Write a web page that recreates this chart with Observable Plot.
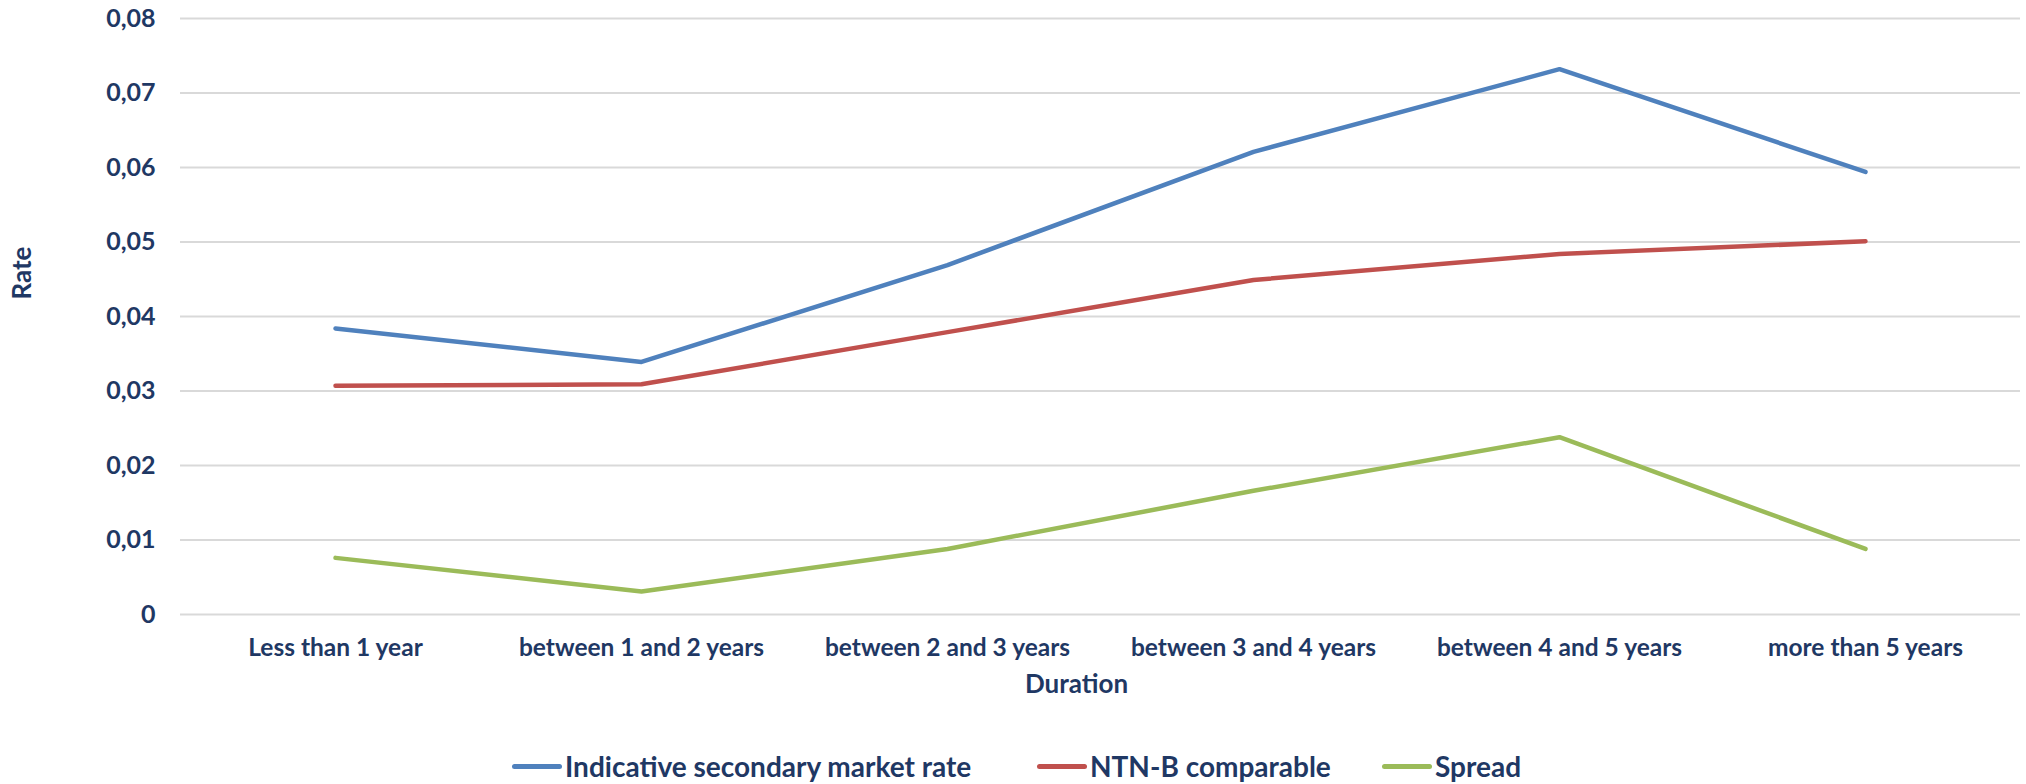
<!DOCTYPE html>
<html>
<head>
<meta charset="utf-8">
<script src="https://cdn.jsdelivr.net/npm/d3@7"></script>
<script src="https://cdn.jsdelivr.net/npm/@observablehq/plot@0.6"></script>
<style>
  html, body { margin: 0; padding: 0; background: #fff; }
  #wrap { position: relative; width: 2026px; height: 784px; font-family: Lato, "Open Sans", sans-serif; font-weight: 700; color: #1f3864; }
  #legend { position: absolute; top: 748px; left: 0; width: 2026px; height: 36px; }
  .item { position: absolute; top: 0; height: 36px; display: flex; align-items: center; font-size: 28px; white-space: nowrap; }
  .sw { width: 50px; height: 5px; border-radius: 3px; margin-right: 3px; }
</style>
</head>
<body>
<div id="wrap"><div id="chart"></div><div id="legend"></div></div>
<script>
const categories = ["Less than 1 year", "between 1 and 2 years", "between 2 and 3 years", "between 3 and 4 years", "between 4 and 5 years", "more than 5 years"];
const seriesNames = ["Indicative secondary market rate", "NTN-B comparable", "Spread"];
const indicative = [0.0384, 0.0339, 0.0469, 0.0621, 0.0732, 0.0594];
const ntnb = [0.0307, 0.0309, 0.0379, 0.0449, 0.0484, 0.0501];
const spread = [0.0076, 0.0031, 0.0088, 0.0166, 0.0238, 0.0088];
const yTicks = [0, 0.01, 0.02, 0.03, 0.04, 0.05, 0.06, 0.07, 0.08];
const colors = ["#4f81bd", "#c0504d", "#9bbb59"];

const allValues = [indicative, ntnb, spread];
const data = [];
seriesNames.forEach((s, i) => categories.forEach((c, j) => data.push({series: s, duration: c, rate: allValues[i][j]})));

const fmt = d => d === 0 ? "0" : d.toFixed(2).replace(".", ",");
const textColor = "#1f3864";

const chart = Plot.plot({
  width: 2026,
  height: 730,
  marginLeft: 180,
  marginRight: 6,
  marginTop: 18,
  marginBottom: 116,
  style: {fontFamily: "Lato, 'Open Sans', sans-serif", fontWeight: 700, fontSize: "24px", color: textColor, background: "#fff"},
  x: {type: "point", domain: categories, padding: 0.5, label: null},
  y: {domain: [0, 0.08], label: null},
  color: {domain: seriesNames, range: colors},
  marks: [
    Plot.gridY(yTicks, {stroke: "#d9d9d9", strokeOpacity: 1, strokeWidth: 2}),
    Plot.axisY(yTicks, {tickSize: 0, tickPadding: 25, tickFormat: fmt, label: null, fontSize: 25, fill: textColor}),
    Plot.axisX({tickSize: 0, tickPadding: 24, label: null, fontSize: 24.5, fill: textColor}),
    Plot.line(data, {x: "duration", y: "rate", z: "series", stroke: "series", strokeWidth: 4.5, strokeLinecap: "round", strokeLinejoin: "round"}),
    Plot.text(["Rate"], {frameAnchor: "left", dx: -158, dy: -17, rotate: -90, fontSize: 26, fill: textColor}),
    Plot.text(["Duration"], {frameAnchor: "bottom", dx: -24, dy: 78, fontSize: 26, fill: textColor})
  ]
});
document.getElementById("chart").appendChild(chart);

const lefts = [512, 1037, 1382];
const legend = document.getElementById("legend");
seriesNames.forEach((s, i) => {
  const it = document.createElement("div");
  it.className = "item";
  it.style.left = lefts[i] + "px";
  const sw = document.createElement("div");
  sw.className = "sw";
  sw.style.background = colors[i];
  const tx = document.createElement("span");
  tx.textContent = s;
  it.appendChild(sw); it.appendChild(tx);
  legend.appendChild(it);
});
</script>
</body>
</html>
